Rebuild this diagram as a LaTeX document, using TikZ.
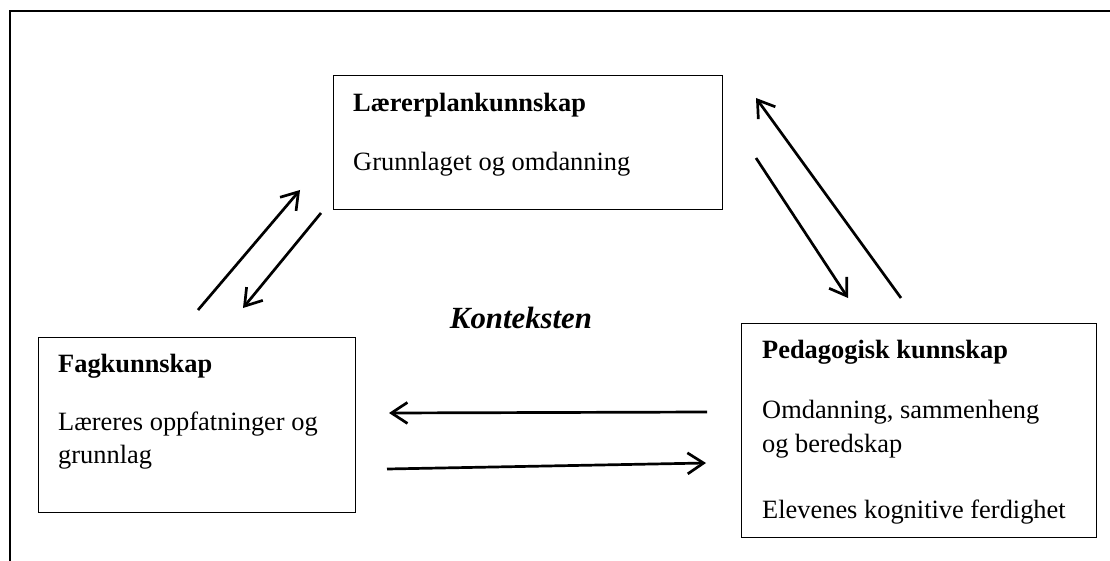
\documentclass[tikz,border=0pt]{standalone}
\usepackage{fontspec}
\setmainfont{Liberation Serif}
\usetikzlibrary{arrows.meta}
\begin{document}
\begin{tikzpicture}[x=1pt,y=-1pt,
  box/.style={draw, line width=1.4pt, inner sep=0pt, anchor=north west},
  txt/.style={anchor=base west, inner sep=0pt, font=\fontsize{26.4}{32}\selectfont},
  head/.style={txt, font=\fontsize{26.4}{32}\selectfont\bfseries},
  link/.style={line width=2.7pt, -{Straight Barb[length=16pt,width=21pt,line width=2.7pt]}}]
\useasboundingbox (0,0) rectangle (1110,561);
% outer frame (top and left edges)
\draw[line width=2.2pt] (1110,11) -- (10,11) -- (10,561);

% boxes
\node[box, minimum width=389pt, minimum height=134pt] (lp) at (333,75) {};
\node[box, minimum width=317pt, minimum height=175pt] (fk) at (38,337) {};
\node[box, minimum width=355pt, minimum height=214pt] (pk) at (741,323) {};

% texts
\node[head] (lpT) at (353,112) {Lærerplankunnskap};
\node[txt]  (lpA) at (353,171) {Grunnlaget og omdanning};

\node[head] (fkT) at (58,372) {Fagkunnskap};
\node[txt]  (fkA) at (58,430) {Læreres oppfatninger og};
\node[txt]  (fkB) at (58,463) {grunnlag};

\node[head] (pkT) at (762,358) {Pedagogisk kunnskap};
\node[txt]  (pkA) at (762,418) {Omdanning, sammenheng};
\node[txt]  (pkB) at (762,452) {og beredskap};
\node[txt]  (pkC) at (762,518) {Elevenes kognitive ferdighet};

\node[anchor=base, inner sep=0pt, font=\fontsize{30.8}{36}\selectfont\bfseries\itshape] (ctx) at (521,328) {Konteksten};

% arrow end points
\coordinate (a1s) at (198,310); \coordinate (a1e) at (300,190);
\coordinate (a2s) at (321,213); \coordinate (a2e) at (243,308);
\coordinate (a3s) at (901,298); \coordinate (a3e) at (756,98);
\coordinate (a4s) at (756,158); \coordinate (a4e) at (848,298);
\coordinate (a5s) at (707,412); \coordinate (a5e) at (389,413);
\coordinate (a6s) at (387,469); \coordinate (a6e) at (706,463);

\draw[link] (a1s) -- (a1e);
\draw[link] (a2s) -- (a2e);
\draw[link] (a3s) -- (a3e);
\draw[link] (a4s) -- (a4e);
\draw[link] (a5s) -- (a5e);
\draw[link] (a6s) -- (a6e);
\end{tikzpicture}
\end{document}
